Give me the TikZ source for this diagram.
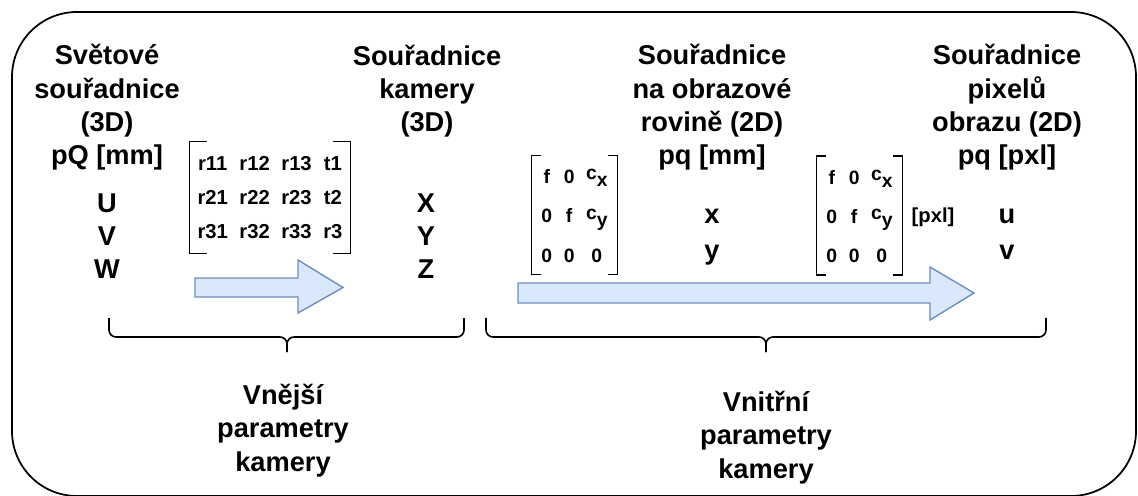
\documentclass[tikz,border=0pt]{standalone}
\usepackage{fontspec}
\setmainfont{Liberation Sans}
\usepackage{tikz}
\setlength{\tabcolsep}{3.3pt}
\definecolor{arrowfill}{HTML}{DAE8FC}
\definecolor{arrowline}{HTML}{6C8EBF}
\newcommand{\csub}[1]{\raisebox{2.2pt}{c}\raisebox{-1.9pt}{#1}}

\begin{document}
\begin{tikzpicture}[x=0.02cm,y=-0.02cm,
	heading/.style={font=\bfseries\fontsize{15.5}{19}\selectfont,align=center,inner sep=0pt,anchor=base},
	coords/.style={font=\bfseries\fontsize{15.5}{18.7}\selectfont,align=center,inner sep=0pt,anchor=base},
	entries/.style={font=\bfseries\fontsize{11.5}{19.3}\selectfont,inner sep=0pt},
	intrinsic/.style={font=\bfseries\fontsize{11}{22.4}\selectfont,inner sep=0pt},
	bracket/.style={line width=0.8pt},
	blockarrow/.style={draw=arrowline,fill=arrowfill,line width=0.8pt},
	brace/.style={line width=0.9pt,rounded corners=0.14cm}]
	\useasboundingbox (0,0) rectangle (1138,496);
	\draw[line width=1pt,rounded corners=1.3cm] (12,12) rectangle (1136,496);

	% coordinate systems (base = last line)
	\node[heading] (world) at (107,165) {Světové\\souřadnice\\(3D)\\pQ [mm]};
	\node[coords] (uvw) at (107,278) {U\\V\\W};
	\node[heading] (camera) at (427,132) {Souřadnice\\kamery\\(3D)};
	\node[coords] (xyz) at (426,278) {X\\Y\\Z};
	\node[heading] (plane) at (712,165) {Souřadnice\\na obrazové\\rovině (2D)\\pq [mm]};
	\node[coords,font=\bfseries\fontsize{15.5}{21}\selectfont] (xy) at (712,260) {x\\y};
	\node[heading] (pixel) at (1007,165) {Souřadnice\\pixelů\\obrazu (2D)\\pq [pxl]};
	\node[coords,font=\bfseries\fontsize{15.5}{21}\selectfont] (uv) at (1007,260) {u\\v};

	% matrices
	\node[entries,minimum width=3.2cm,minimum height=2.22cm] (extmat) at (270,197.5) {\begin{tabular}{@{}cccc@{}}
		r11 & r12 & r13 & t1\\
		r21 & r22 & r23 & t2\\
		r31 & r32 & r33 & r3
	\end{tabular}};
	\draw[bracket] ([xshift=0.34cm]extmat.north west) -- (extmat.north west) -- (extmat.south west) -- ++(0.34cm,0);
	\draw[bracket] ([xshift=-0.34cm]extmat.north east) -- (extmat.north east) -- (extmat.south east) -- ++(-0.34cm,0);

	\node[intrinsic,minimum width=1.7cm,minimum height=2.28cm] (intmat) at (574.5,215) {\begin{tabular}{@{}ccc@{}}
		f & 0 & \csub{x}\\
		0 & f & \csub{y}\\
		0 & 0 & 0
	\end{tabular}};
	\draw[bracket] ([xshift=0.18cm]intmat.north west) -- (intmat.north west) -- (intmat.south west) -- ++(0.18cm,0);
	\draw[bracket] ([xshift=-0.18cm]intmat.north east) -- (intmat.north east) -- (intmat.south east) -- ++(-0.18cm,0);

	\node[intrinsic,minimum width=1.7cm,minimum height=2.3cm] (pxlmat) at (859.5,215.5) {\begin{tabular}{@{}ccc@{}}
		f & 0 & \csub{x}\\
		0 & f & \csub{y}\\
		0 & 0 & 0
	\end{tabular}};
	\draw[bracket] ([xshift=0.18cm]pxlmat.north west) -- (pxlmat.north west) -- (pxlmat.south west) -- ++(0.18cm,0);
	\draw[bracket] ([xshift=-0.18cm]pxlmat.north east) -- (pxlmat.north east) -- (pxlmat.south east) -- ++(-0.18cm,0);
	\node[entries,anchor=base] (pxlunit) at (933,223) {[pxl]};

	% block arrows
	\draw[blockarrow] (195,278) -- (298,278) -- (298,260) -- (343,287.5) -- (298,313) -- (298,297) -- (195,297) -- cycle;
	\draw[blockarrow] (518,283) -- (930,283) -- (930,267) -- (974,293) -- (930,320) -- (930,303) -- (518,303) -- cycle;

	% braces
	\draw[brace] (109,318) |- (287,337) -- (287,352);
	\draw[brace] (464,318) |- (287,337) -- (287,352);
	\draw[brace] (486,318) |- (766,337) -- (766,352);
	\draw[brace] (1046,318) |- (766,337) -- (766,352);

	\node[heading] (extrinsic) at (283,471) {Vnější\\parametry\\kamery};
	\node[heading] (intrinsiclabel) at (766,478) {Vnitřní\\parametry\\kamery};
\end{tikzpicture}
\end{document}
